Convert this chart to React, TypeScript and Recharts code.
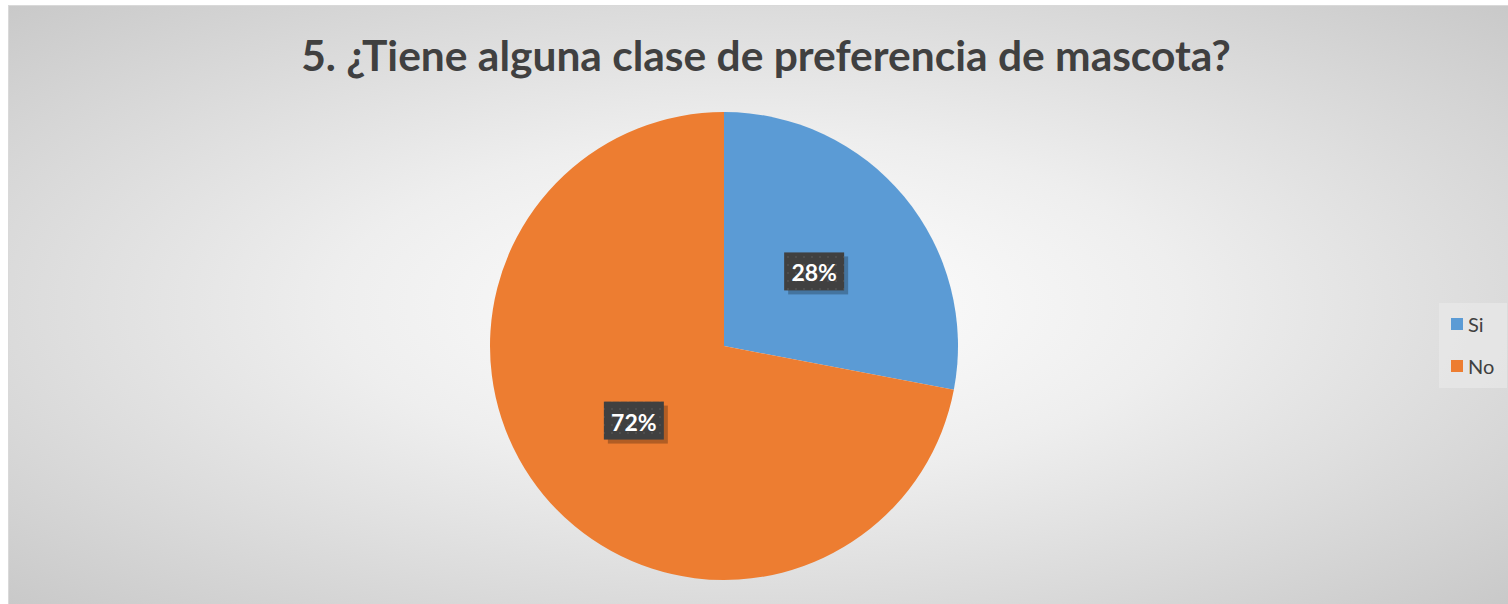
import React from "react";
import { PieChart, Pie, Cell, Legend } from "recharts";

const categories = ["Si", "No"];
const values = [28, 72];
const colors = ["#5b9bd5", "#ed7d31"];

const data = categories.map((name, i) => ({ name, value: values[i] }));

const RADIAN = Math.PI / 180;

const renderLabel = (props: any) => {
  const { cx, cy, midAngle, outerRadius, percent } = props;
  const r = outerRadius * 0.5;
  const x = cx + r * Math.cos(-midAngle * RADIAN);
  const y = cy + r * Math.sin(-midAngle * RADIAN);
  const w = 60;
  const h = 38;
  return (
    <g>
      <rect x={x - w / 2 + 4} y={y - h / 2 + 4} width={w} height={h} fill="rgba(0,0,0,0.25)" />
      <rect x={x - w / 2} y={y - h / 2} width={w} height={h} fill="url(#dots)" />
      <text
        x={x}
        y={y + 1}
        fill="#ffffff"
        textAnchor="middle"
        dominantBaseline="central"
        fontFamily="Lato, 'Open Sans', sans-serif"
        fontWeight="bold"
        fontSize={23}
      >
        {`${Math.round(percent * 100)}%`}
      </text>
    </g>
  );
};

const LegendBox = () => (
  <div
    style={{
      background: "rgba(235,235,235,0.6)",
      width: 68,
      height: 85,
      boxSizing: "border-box",
      padding: "10px 0 0 12px",
      fontFamily: "Lato, 'Open Sans', sans-serif",
      fontSize: 20,
      color: "#404040",
    }}
  >
    {categories.map((c, i) => (
      <div key={c} style={{ display: "flex", alignItems: "center", height: 22, marginBottom: i === 0 ? 20 : 0 }}>
        <span style={{ display: "inline-block", width: 12, height: 12, background: colors[i], marginRight: 5 }} />
        {c}
      </div>
    ))}
  </div>
);

export default function App() {
  return (
    <div
      style={{
        position: "absolute",
        top: 5,
        left: 8,
        width: 1500,
        height: 599,
        boxSizing: "border-box",
        borderTop: "1px solid #d9d9d9",
        borderLeft: "1px solid #d9d9d9",
        background: "radial-gradient(ellipse at 50% 50%, #ffffff 0%, #eeeeee 40%, #c9c9c9 100%)",
      }}
    >
      <div
        style={{
          position: "absolute",
          top: 23,
          left: 0,
          width: 1514,
          textAlign: "center",
          fontFamily: "Lato, 'Open Sans', sans-serif",
          fontWeight: "bold",
          fontSize: 42.5,
          color: "#404040",
        }}
      >
        5. ¿Tiene alguna clase de preferencia de mascota?
      </div>
      <PieChart width={1500} height={599} style={{ position: "absolute", top: 0, left: 0 }}>
        <defs>
          <pattern id="dots" width="8" height="8" patternUnits="userSpaceOnUse">
            <rect width="8" height="8" fill="#404040" />
            <rect x="2" y="2" width="2" height="2" fill="#4d4d4d" />
          </pattern>
        </defs>
        <Pie
          data={data}
          dataKey="value"
          nameKey="name"
          cx={710}
          cy={335}
          outerRadius={234}
          startAngle={90}
          endAngle={-270}
          stroke="none"
          label={renderLabel}
          labelLine={false}
          isAnimationActive={false}
        >
          {data.map((d, i) => (
            <Cell key={d.name} fill={colors[i]} />
          ))}
        </Pie>
        <Legend
          content={<LegendBox />}
          wrapperStyle={{ position: "absolute", left: 1430, top: 297, width: 68 }}
        />
      </PieChart>
    </div>
  );
}
